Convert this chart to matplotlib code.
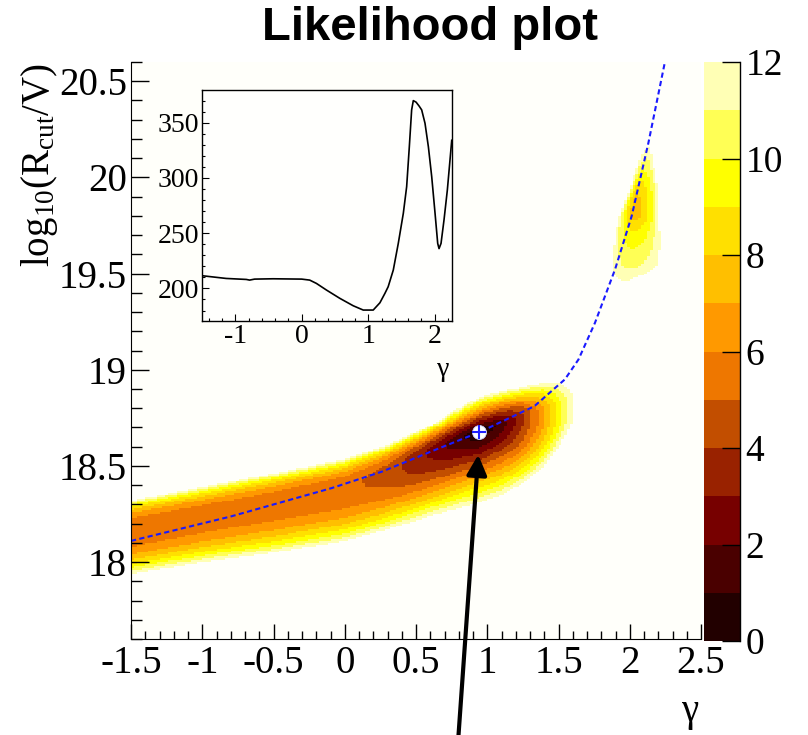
import numpy as np
import matplotlib
matplotlib.use("Agg")
import matplotlib.pyplot as plt
from matplotlib.colors import ListedColormap, BoundaryNorm
from matplotlib.ticker import MultipleLocator, FuncFormatter

plt.rcParams['font.family'] = ['Liberation Serif', 'DejaVu Serif']
plt.rcParams['mathtext.fontset'] = 'custom'
plt.rcParams['mathtext.rm'] = 'Liberation Serif'
plt.rcParams['mathtext.it'] = 'Liberation Serif:italic'

# palette: one colour per unit step from 0 to 12
level_edges = np.arange(0, 13, 1)
band_colors = ['#220000', '#4a0000', '#770000', '#992200', '#c24e00', '#ee7700',
               '#ff9900', '#ffbf00', '#ffe000', '#ffff00', '#ffff55', '#ffffb5']

# main valley, read column by column (gamma) off the picture
ridge_g = [-1.5, -1.0, -0.5, 0.0, 0.3, 0.6, 0.8, 0.95, 1.1, 1.25, 1.4, 1.5, 1.58, 1.63]
ridge_core = [18.17, 18.24, 18.31, 18.385, 18.47, 18.58, 18.64, 18.68, 18.72, 18.75, 18.77, 18.78, 18.79, 18.80]
ridge_top = [18.32, 18.39, 18.46, 18.535, 18.61, 18.71, 18.80, 18.86, 18.89, 18.91, 18.93, 18.93, 18.90, 18.84]
ridge_bot = [17.94, 18.00, 18.05, 18.11, 18.17, 18.24, 18.28, 18.31, 18.35, 18.41, 18.50, 18.60, 18.70, 18.78]
ridge_min = [5.3, 5.4, 5.4, 5.3, 4.6, 2.8, 1.3, 0.0, 1.4, 3.8, 6.8, 9.3, 11.3, 12.5]
ridge_pow = [2.4, 2.4, 2.4, 2.4, 2.2, 1.8, 1.4, 1.2, 1.4, 1.8, 2.0, 2.0, 2.0, 2.0]

# second (upper) island, read row by row (log10 R)
blob_v = [19.44, 19.49, 19.54, 19.63, 19.72, 19.80, 19.88, 19.97, 20.05, 20.10, 20.17]
blob_left = [1.94, 1.885, 1.873, 1.885, 1.905, 1.93, 1.97, 2.014, 2.05, 2.075, 2.125]
blob_right = [1.96, 2.085, 2.19, 2.213, 2.21, 2.20, 2.20, 2.19, 2.17, 2.155, 2.135]
blob_center = [1.95, 1.98, 2.0, 2.01, 2.02, 2.03, 2.04, 2.07, 2.10, 2.12, 2.13]
blob_min = [12.3, 11.5, 10.8, 10.0, 9.0, 7.6, 7.6, 8.8, 10.2, 11.0, 12.2]

# blue dashed curve
curve_g = [-1.5, -0.8, -0.09, 0.26, 0.61, 0.95, 1.33, 1.545, 1.64, 1.756, 1.897, 2.014, 2.131, 2.244]
curve_v = [18.11, 18.237, 18.385, 18.47, 18.576, 18.677, 18.81, 18.95, 19.053, 19.244, 19.522, 19.80, 20.18, 20.59]

best_g, best_v = 0.944, 18.678

# inset: profile along the curve
inset_g = [-1.503, -1.136, -0.834, -0.784, -0.709, -0.432, 0.0, 0.12, 0.221, 0.372, 0.573,
           0.774, 0.925, 1.075, 1.176, 1.251, 1.30, 1.377, 1.452, 1.528, 1.578, 1.618,
           1.653, 1.678, 1.72, 1.765, 1.804, 1.854, 1.905, 1.955, 2.005, 2.045, 2.065,
           2.095, 2.14, 2.19, 2.256]
inset_val = [211.5, 209.0, 208.1, 207.5, 208.4, 208.7, 208.4, 207.5, 204.5, 198.5, 191.0,
             184.3, 180.4, 180.4, 187.0, 195.5, 201.5, 216.6, 240.7, 268.0, 292.0, 328.0,
             361.5, 369.9, 368.5, 365.0, 361.5, 349.4, 328.0, 301.0, 268.0, 240.7, 236.0,
             240.7, 262.0, 289.0, 334.0]

# build the binned surface
gx = np.arange(-1.5, 2.5 + 1e-9, 0.02)
gy = np.arange(17.6, 20.6 + 1e-9, 0.01)
G, V = np.meshgrid(0.5 * (gx[1:] + gx[:-1]), 0.5 * (gy[1:] + gy[:-1]))

core = np.interp(G, ridge_g, ridge_core)
up = np.maximum(np.interp(G, ridge_g, ridge_top) - core, 1e-3)
dn = np.maximum(core - np.interp(G, ridge_g, ridge_bot), 1e-3)
m = np.interp(G, ridge_g, ridge_min)
p = np.interp(G, ridge_g, ridge_pow)
d = V - core
t = np.where(d >= 0, d / up, -d / dn)
main = m + np.maximum(12 - m, 0.5) * t ** p
main[G > ridge_g[-1]] = 99

bc = np.interp(V, blob_v, blob_center)
bl = np.maximum(bc - np.interp(V, blob_v, blob_left), 1e-3)
br = np.maximum(np.interp(V, blob_v, blob_right) - bc, 1e-3)
bm = np.interp(V, blob_v, blob_min)
dg = G - bc
tb = np.where(dg >= 0, dg / br, -dg / bl)
blob = bm + np.maximum(12 - bm, 0.5) * tb ** 2
blob[(V < blob_v[0]) | (V > blob_v[-1])] = 99

field = np.ma.masked_greater_equal(np.minimum(main, blob), 12)

cmap = ListedColormap(band_colors)
norm = BoundaryNorm(level_edges, cmap.N)

fig = plt.figure(figsize=(8.08, 7.35), dpi=100)
ax = fig.add_axes([131 / 808, 96 / 735, 570 / 808, 577 / 735])
ax.set_facecolor('#fffffa')
mesh = ax.pcolormesh(gx, gy, field, cmap=cmap, norm=norm, shading='flat')

ax.plot(curve_g, curve_v, color='#1a1aff', lw=1.5, linestyle=(0, (2.5, 1.6)))
ax.plot(best_g, best_v, 'o', ms=10, mfc='white', mec='#d0d0ff', mew=0.6)
ax.plot(best_g, best_v, '+', ms=10, mec='#2020ff', mew=1.5)

ax.set_xlim(-1.5, 2.5)
ax.set_ylim(17.6, 20.6)
ax.spines['top'].set_visible(False)
ax.spines['right'].set_visible(False)
ax.xaxis.set_major_locator(MultipleLocator(0.5))
ax.xaxis.set_minor_locator(MultipleLocator(0.1))
ax.yaxis.set_major_locator(MultipleLocator(0.5))
ax.yaxis.set_minor_locator(MultipleLocator(0.1))
fmt = FuncFormatter(lambda v, pos: '%g' % v)
ax.xaxis.set_major_formatter(fmt)
ax.yaxis.set_major_formatter(fmt)
ax.tick_params(which='both', direction='in', top=False, right=False, labelsize=28, width=1)
ax.tick_params(axis='x', which='major', length=11, pad=4)
ax.tick_params(axis='x', which='minor', length=6)
ax.tick_params(axis='y', which='major', length=13, pad=3)
ax.tick_params(axis='y', which='minor', length=8)

ax.annotate('', xy=(0.937, 18.558), xycoords='data',
            xytext=(458 / 808, -0.01), textcoords='figure fraction',
            arrowprops=dict(arrowstyle='-|>,head_length=0.6,head_width=0.3',
                            color='black', lw=3, mutation_scale=20,
                            shrinkA=0, shrinkB=0),
            annotation_clip=False)

# colour scale
cax = fig.add_axes([704 / 808, 94 / 735, 36 / 808, 579 / 735])
cb = fig.colorbar(mesh, cax=cax, ticks=range(0, 13, 2))
cb.outline.set_visible(False)
cax.spines['right'].set_visible(True)
cax.spines['right'].set_linewidth(1)
cax.tick_params(direction='in', length=13, width=1, labelsize=27, pad=4)
cax.minorticks_off()

# inset
ins = fig.add_axes([202 / 808, 414 / 735, 250 / 808, 231 / 735])
ins.set_facecolor('#fffffd')
ins.plot(inset_g, inset_val, color='black', lw=1.2)
ins.set_xlim(-1.5, 2.26)
ins.set_ylim(170.5, 379.5)
ins.xaxis.set_major_locator(MultipleLocator(1))
ins.xaxis.set_minor_locator(MultipleLocator(0.2))
ins.yaxis.set_major_locator(MultipleLocator(50))
ins.yaxis.set_minor_locator(MultipleLocator(10))
ins.xaxis.set_major_formatter(fmt)
ins.tick_params(which='both', direction='in', top=False, right=False, labelsize=20, width=0.8)
ins.tick_params(which='major', length=5, pad=2)
ins.tick_params(which='minor', length=2.5)
for s in ins.spines.values():
    s.set_linewidth(1)

fig.text(430 / 808, 1 - 28 / 735, 'Likelihood plot', fontsize=34, fontweight='bold',
         family='Liberation Sans', ha='center', va='center')
fig.text(40 / 808, 1 - 165 / 735, r'$\mathrm{log}_{10}(\mathrm{R}_{\mathrm{cut}}/\mathrm{V})$',
         fontsize=28, rotation=90, ha='center', va='center')
fig.text(690 / 808, 1 - 712 / 735, 'γ', fontsize=28, ha='center', va='center')
fig.text(443 / 808, 1 - 370 / 735, 'γ', fontsize=20, ha='center', va='center')

fig.savefig('out.png', dpi=100)
